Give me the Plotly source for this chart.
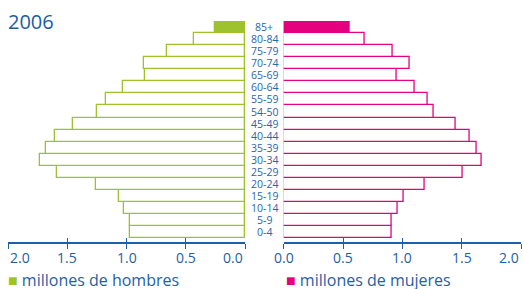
import plotly.graph_objects as go

ages = ["0-4", "5-9", "10-14", "15-19", "20-24", "25-29", "30-34", "35-39",
        "40-44", "45-49", "54-50", "55-59", "60-64", "65-69", "70-74", "75-79",
        "80-84", "85+"]
hombres = [0.97, 0.97, 1.02, 1.06, 1.26, 1.59, 1.73, 1.68, 1.60, 1.45,
           1.25, 1.17, 1.03, 0.84, 0.85, 0.66, 0.43, 0.25]
mujeres = [0.91, 0.91, 0.96, 1.01, 1.19, 1.51, 1.67, 1.63, 1.57, 1.45,
           1.26, 1.21, 1.10, 0.95, 1.06, 0.92, 0.68, 0.56]
ticks = [0.0, 0.5, 1.0, 1.5, 2.0]
tick_labels = ["0.0", "0.5", "1.0", "1.5", "2.0"]

GREEN = "#9dc22d"
PINK = "#e5007e"
BLUE = "#1f5ea8"
FONT = "Open Sans"

fill_h = ["white"] * (len(ages) - 1) + [GREEN]
fill_m = ["white"] * (len(ages) - 1) + [PINK]

fig = go.Figure()
fig.add_trace(go.Bar(y=ages, x=hombres, orientation="h", xaxis="x", yaxis="y",
                     marker=dict(color=fill_h, line=dict(color=GREEN, width=1.3)),
                     showlegend=False))
fig.add_trace(go.Bar(y=ages, x=mujeres, orientation="h", xaxis="x2", yaxis="y2",
                     marker=dict(color=fill_m, line=dict(color=PINK, width=1.3)),
                     showlegend=False))
# invisible traces to carry overlay axes (inner half of tick marks)
fig.add_trace(go.Scatter(x=[None], y=[None], xaxis="x3", yaxis="y", showlegend=False, hoverinfo="skip"))
fig.add_trace(go.Scatter(x=[None], y=[None], xaxis="x4", yaxis="y2", showlegend=False, hoverinfo="skip"))

W, H = 523, 289
ml, mr, mt, mb = 8, 2, 21, 47
pw = W - ml - mr
ph = H - mt - mb
d_left = (245 - ml) / pw
d_right = (283.7 - ml) / pw

xcommon = dict(tickvals=ticks, showticklabels=False, showgrid=False, zeroline=False,
               fixedrange=True)
yr = [-0.81, len(ages) - 0.5]

fig.update_layout(
    width=W, height=H, margin=dict(l=ml, r=mr, t=mt, b=mb),
    paper_bgcolor="white", plot_bgcolor="white", bargap=0,
    font=dict(family=FONT, color=BLUE),
    xaxis=dict(domain=[0, d_left], range=[2, 0], anchor="y", showline=True,
               linecolor=BLUE, linewidth=1.5, ticks="outside", ticklen=5,
               tickwidth=1.3, tickcolor=BLUE, **xcommon),
    xaxis2=dict(domain=[d_right, 1], range=[0, 2], anchor="y2", showline=True,
                linecolor=BLUE, linewidth=1.5, ticks="outside", ticklen=5,
                tickwidth=1.3, tickcolor=BLUE, **xcommon),
    xaxis3=dict(overlaying="x", range=[2, 0], anchor="y", side="bottom",
                showline=False, ticks="inside", ticklen=4, tickwidth=1.3,
                tickcolor=BLUE, **xcommon),
    xaxis4=dict(overlaying="x2", range=[0, 2], anchor="y2", side="bottom",
                showline=False, ticks="inside", ticklen=4, tickwidth=1.3,
                tickcolor=BLUE, **xcommon),
    yaxis=dict(categoryorder="array", categoryarray=ages, range=yr, anchor="x",
               showticklabels=False, showgrid=False, zeroline=False, showline=False),
    yaxis2=dict(categoryorder="array", categoryarray=ages, range=yr, anchor="x2",
                showticklabels=False, showgrid=False, zeroline=False, showline=False),
)

ann = []
# age labels in the middle
mid = (264.4 - ml) / pw
for a in ages:
    ann.append(dict(x=mid, y=a, xref="paper", yref="y", text=a, showarrow=False,
                    font=dict(family=FONT, size=10.5, color="#2a64ad"),
                    xanchor="center", yanchor="middle", borderpad=0))
# tick labels
for i, (v, t) in enumerate(zip(ticks, tick_labels)):
    if v == 2.0:
        xa = "left"
    elif v == 0.0:
        xa = "right"
    else:
        xa = "center"
    ann.append(dict(x=v, y=0, xref="x", yref="paper", text=t, showarrow=False,
                    font=dict(family=FONT, size=14, color=BLUE), xanchor=xa,
                    yanchor="middle", yshift=-15))
    xa2 = "right" if v == 2.0 else "center"
    ann.append(dict(x=v, y=0, xref="x2", yref="paper", text=t, showarrow=False,
                    font=dict(family=FONT, size=14, color=BLUE), xanchor=xa2,
                    yanchor="middle", yshift=-15))
# title
ann.append(dict(x=0, y=1, xref="paper", yref="paper", text="2006", showarrow=False,
                font=dict(family=FONT, size=20, color="#1a5ca8"), xanchor="left",
                yanchor="middle", xshift=-2))
# legends
ann.append(dict(x=0, y=0, xref="paper", yref="paper",
                text=f'<span style="color:{GREEN}">■</span> millones de hombres',
                showarrow=False, font=dict(family=FONT, size=16, color=BLUE),
                xanchor="left", yanchor="middle", yshift=-38, xshift=-2))
ann.append(dict(x=d_right, y=0, xref="paper", yref="paper",
                text=f'<span style="color:{PINK}">■</span> millones de mujeres',
                showarrow=False, font=dict(family=FONT, size=16, color=BLUE),
                xanchor="left", yanchor="middle", yshift=-38, xshift=0))
fig.update_layout(annotations=ann)

fig.write_html("out.html", config={"displayModeBar": False},
               post_script="document.body.style.margin='0';document.body.style.padding='0';")
